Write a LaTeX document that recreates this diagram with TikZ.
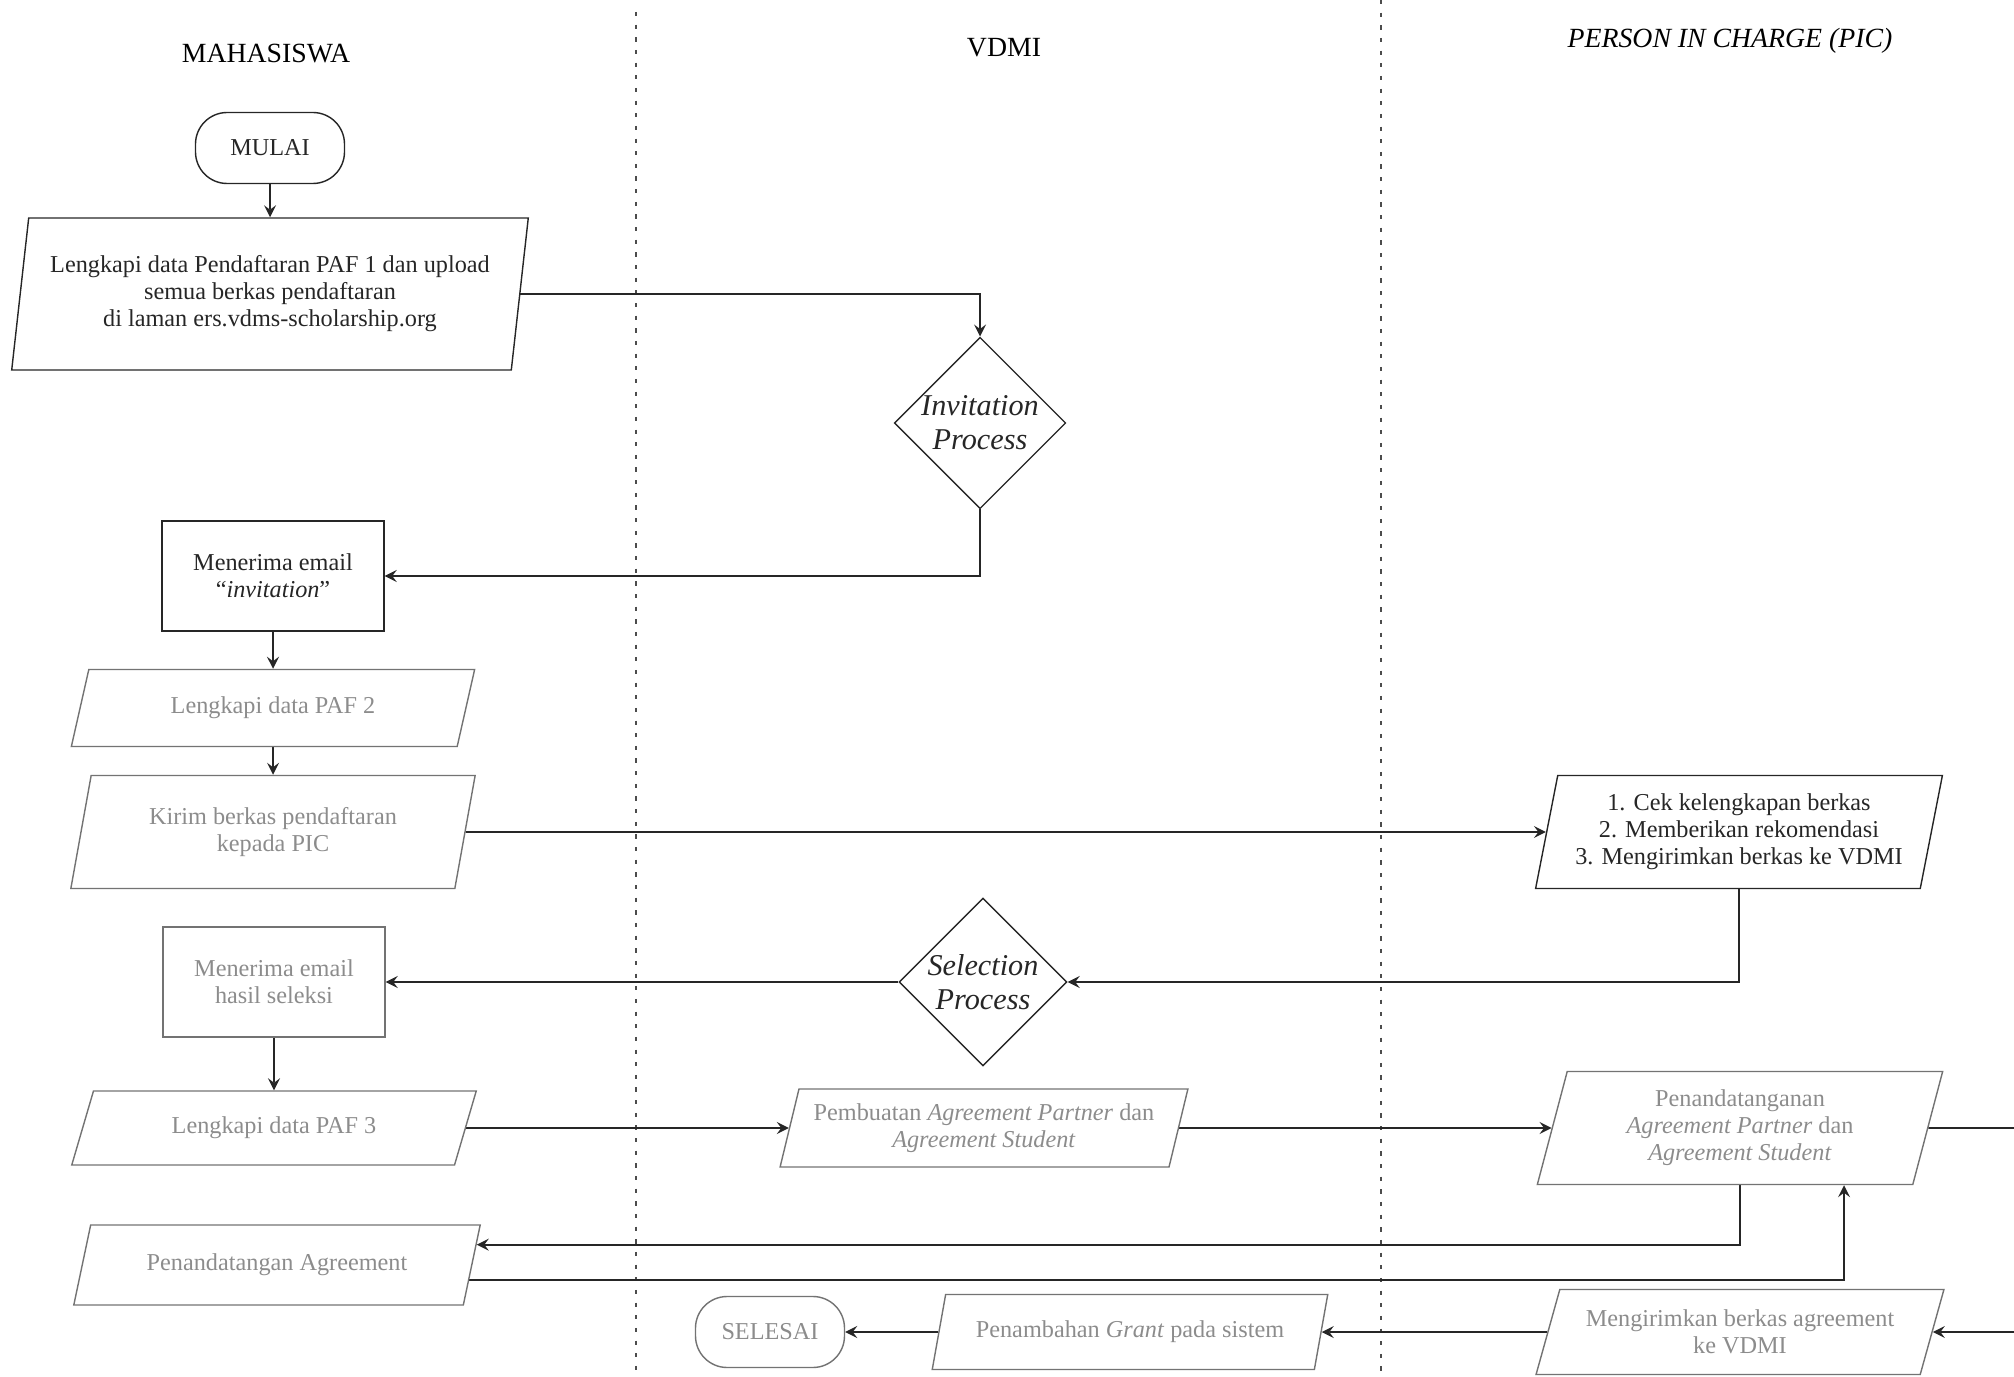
\documentclass[tikz,border=0pt]{standalone}
\usepackage{fontspec}
\setmainfont{Liberation Serif}
\usepackage{tikz}
\usetikzlibrary{arrows,positioning,shapes.geometric,calc}
\pgfdeclarelayer{edgelayer}
\pgfdeclarelayer{nodelayer}
\pgfsetlayers{edgelayer,nodelayer,main}
\tikzset{font=\fontsize{6.9}{7.7}\selectfont}
\definecolor{ink}{gray}{0.15}
\definecolor{pale}{gray}{0.55}
\tikzstyle{none}=[inner sep=0pt]
\tikzstyle{lanehead}=[inner sep=0pt,text=black,font=\fontsize{7.9}{9}\selectfont]
\tikzstyle{terminal}=[rectangle,rounded corners=9pt,draw=ink,text=ink,minimum width=1.49cm,minimum height=0.71cm]
\tikzstyle{process}=[rectangle,draw=ink,text=ink,align=center,minimum width=2.22cm,minimum height=1.1cm]
\tikzstyle{io}=[trapezium,trapezium left angle=74,trapezium right angle=106,trapezium stretches=true,draw=ink,text=ink,align=center,inner sep=2pt]
\tikzstyle{decision}=[diamond,aspect=1,draw=ink,text=ink,align=center,inner sep=0pt,minimum size=1.68cm,font=\fontsize{8.6}{9.6}\selectfont\itshape]
\tikzstyle{paletext}=[draw=black!55,text=pale]
\tikzstyle{inarrow}=[->, >=stealth, draw=ink, line width=0.5pt]
\tikzstyle{simple}=[-, draw=ink, line width=0.5pt]
\tikzstyle{lanesep}=[draw=black!70, line width=0.5pt, dash pattern=on 1.2pt off 2.4pt]

\begin{document}
\begin{tikzpicture}
	\useasboundingbox (0,0) rectangle (20.14,-13.77);
	\begin{pgfonlayer}{nodelayer}
		\node [style=lanehead] (hM) at (2.66,-0.54) {MAHASISWA};
		\node [style=lanehead] (hV) at (10.04,-0.48) {VDMI};
		\node [style=lanehead] (hP) at (17.30,-0.41) {\textit{PERSON IN CHARGE (PIC)}};
		\node [style=none] (sepAt) at (6.36,-0.12) {};
		\node [style=none] (sepAb) at (6.36,-13.77) {};
		\node [style=none] (sepBt) at (13.81,0) {};
		\node [style=none] (sepBb) at (13.81,-13.77) {};
		\node [style=terminal] (mulai) at (2.70,-1.48) {MULAI};
		\node [style=io, trapezium left angle=80, trapezium right angle=100, minimum width=5.17cm, minimum height=1.52cm] (paf1) at (2.70,-2.94) {Lengkapi data Pendaftaran PAF 1 dan upload\\semua berkas pendaftaran\\di laman ers.vdms-scholarship.org};
		\node [style=decision] (invite) at (9.80,-4.23) {Invitation\\Process};
		\node [style=process] (email1) at (2.73,-5.76) {Menerima email\\``\textit{invitation}''};
		\node [style=io, paletext, minimum width=4.06cm, minimum height=0.77cm] (paf2) at (2.73,-7.08) {Lengkapi data PAF 2};
		\node [style=io, paletext, trapezium left angle=77, trapezium right angle=103, minimum width=4.07cm, minimum height=1.13cm] (kirim) at (2.73,-8.32) {Kirim berkas pendaftaran\\kepada PIC};
		\node [style=io, trapezium left angle=77, trapezium right angle=103, minimum width=4.07cm, minimum height=1.13cm] (cek) at (17.39,-8.32) {1. Cek kelengkapan berkas\\2. Memberikan rekomendasi\\3. Mengirimkan berkas ke VDMI};
		\node [style=decision] (select) at (9.83,-9.82) {Selection\\Process};
		\node [style=process, paletext] (email2) at (2.74,-9.82) {Menerima email\\hasil seleksi};
		\node [style=io, paletext, trapezium left angle=70, trapezium right angle=110, minimum width=4.06cm, minimum height=0.74cm] (paf3) at (2.74,-11.28) {Lengkapi data PAF 3};
		\node [style=io, paletext, minimum width=4.08cm, minimum height=0.78cm] (buat) at (9.84,-11.28) {Pembuatan \textit{Agreement Partner} dan\\\textit{Agreement Student}};
		\node [style=io, paletext, trapezium left angle=77, trapezium right angle=103, minimum width=4.07cm, minimum height=1.13cm] (signP) at (17.40,-11.28) {Penandatanganan\\\textit{Agreement Partner} dan\\\textit{Agreement Student}};
		\node [style=io, paletext, trapezium left angle=71, trapezium right angle=109, minimum width=4.08cm, minimum height=0.80cm] (signM) at (2.77,-12.65) {Penandatangan Agreement};
		\node [style=io, paletext, trapezium left angle=70, trapezium right angle=110, minimum width=4.08cm, minimum height=0.85cm] (kirimAgr) at (17.40,-13.32) {Mengirimkan berkas agreement\\ke VDMI};
		\node [style=io, paletext, trapezium left angle=72, trapezium right angle=108, minimum width=3.98cm, minimum height=0.75cm] (tambah) at (11.30,-13.32) {Penambahan \textit{Grant} pada sistem};
		\node [style=terminal, paletext] (selesai) at (7.70,-13.32) {SELESAI};
		\node [style=none] (outR) at (20.14,-11.28) {};
		\node [style=none] (inR) at (20.14,-13.32) {};
		\coordinate (inM) at ($(signM.bottom right corner)!0.75!(signM.top right corner)$);
		\coordinate (outM) at ($(signM.bottom right corner)!0.32!(signM.top right corner)$);
		\path (signP.south) ++(1.04,0) coordinate (upP);
	\end{pgfonlayer}
	\begin{pgfonlayer}{edgelayer}
		\draw [style=lanesep] (sepAt.center) to (sepAb.center);
		\draw [style=lanesep] (sepBt.center) to (sepBb.center);
		\draw [style=inarrow] (mulai) to (paf1);
		\draw [style=inarrow] (paf1) -| (invite);
		\draw [style=inarrow] (invite) |- (email1);
		\draw [style=inarrow] (email1) to (paf2);
		\draw [style=inarrow] (paf2) to (kirim);
		\draw [style=inarrow] (kirim) to (cek);
		\draw [style=inarrow] (cek) |- (select);
		\draw [style=inarrow] (select) to (email2);
		\draw [style=inarrow] (email2) to (paf3);
		\draw [style=inarrow] (paf3) to (buat);
		\draw [style=inarrow] (buat) to (signP);
		\draw [style=simple] (signP) to (outR.center);
		\draw [style=inarrow] (signP) |- (inM);
		\draw [style=inarrow] (outM) -| (upP);
		\draw [style=inarrow] (inR.center) to (kirimAgr);
		\draw [style=inarrow] (kirimAgr) to (tambah);
		\draw [style=inarrow] (tambah) to (selesai);
	\end{pgfonlayer}
\end{tikzpicture}
\end{document}
